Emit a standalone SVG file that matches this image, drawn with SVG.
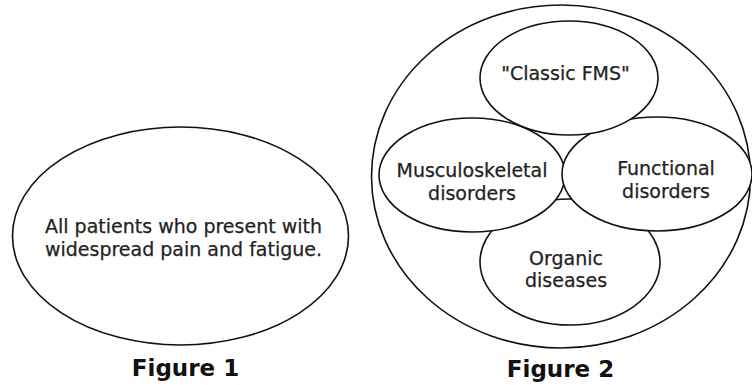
<svg xmlns="http://www.w3.org/2000/svg" width="752" height="385" viewBox="0 0 752 385">
<style>
.e{fill:#fff;stroke:#111;stroke-width:1.6}
.t{font-family:"DejaVu Sans",Verdana,sans-serif;font-size:19px;fill:#222;stroke:#222;stroke-width:0.25;text-anchor:middle}
.f{font-family:"DejaVu Sans",Verdana,sans-serif;font-size:23px;font-weight:bold;fill:#111;text-anchor:middle}
</style>
<rect width="752" height="385" fill="#fff"/>
<g id="fig1">
<ellipse class="e" cx="180.5" cy="236" rx="168" ry="109"/>
<text class="t" x="183.5" y="233">All patients who present with</text>
<text class="t" x="183.5" y="256">widespread pain and fatigue.</text>
</g>
<text class="f" x="185.5" y="376">Figure 1</text>
<g id="outer">
<ellipse class="e" cx="561" cy="176.5" rx="189.5" ry="171.5"/>
</g>
<g id="organic">
<ellipse class="e" cx="570" cy="262" rx="90" ry="63"/>
<text class="t" x="566" y="265">Organic</text>
<text class="t" x="566" y="287">diseases</text>
</g>
<g id="musculo">
<ellipse class="e" cx="472" cy="175" rx="93" ry="57"/>
<text class="t" x="472" y="177">Musculoskeletal</text>
<text class="t" x="472" y="200">disorders</text>
</g>
<g id="functional">
<ellipse class="e" cx="657" cy="174" rx="95" ry="57"/>
<text class="t" x="666" y="175">Functional</text>
<text class="t" x="666" y="198">disorders</text>
</g>
<g id="classic">
<ellipse class="e" cx="569" cy="78" rx="89" ry="57"/>
<text class="t" x="565.5" y="80">"Classic FMS"</text>
</g>
<text class="f" x="560.5" y="377">Figure 2</text>
</svg>
